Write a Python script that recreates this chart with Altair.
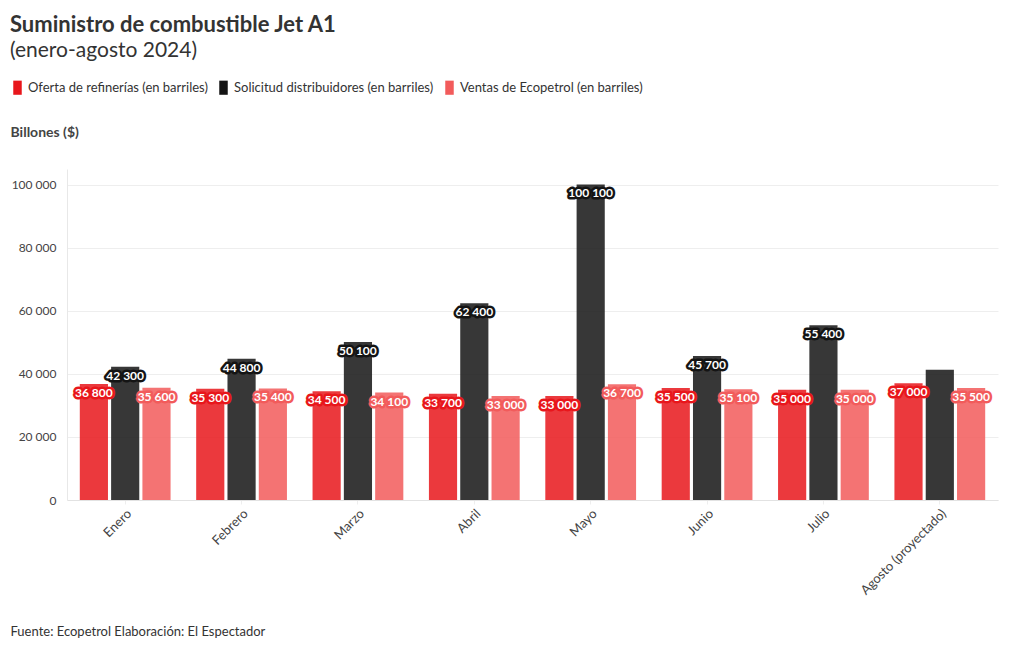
import altair as alt
import pandas as pd

months = ["Enero", "Febrero", "Marzo", "Abril", "Mayo", "Junio", "Julio", "Agosto (proyectado)"]
series = ["Oferta de refinerías (en barriles)", "Solicitud distribuidores (en barriles)", "Ventas de Ecopetrol (en barriles)"]
oferta = [36800, 35300, 34500, 33700, 33000, 35500, 35000, 37000]
solicitud = [42300, 44800, 50100, 62400, 100100, 45700, 55400, 41300]
ventas = [35600, 35400, 34100, 33000, 36700, 35100, 35000, 35500]
show_oferta = [True] * 8
show_solicitud = [True] * 7 + [False]
show_ventas = [True] * 8
colors = ["#e8161b", "#141414", "#f25b5b"]

rows = []
for s, vals, shows in zip(series, [oferta, solicitud, ventas], [show_oferta, show_solicitud, show_ventas]):
    for m, v, sh in zip(months, vals, shows):
        rows.append({"mes": m, "serie": s, "valor": v, "show": sh,
                     "etiqueta": f"{v:,}".replace(",", " ")})
df = pd.DataFrame(rows)

FONT = "Lato"
cscale = alt.Scale(domain=series, range=colors)

x = alt.X("mes:N", sort=months,
          scale=alt.Scale(paddingInner=0.22, paddingOuter=0.11),
          axis=alt.Axis(title="Fuente: Ecopetrol Elaboración: El Espectador",
                        labelAngle=-45, labelFontSize=13, labelColor="#444", labelFont=FONT,
                        labelPadding=3, labelLimit=0,
                        domainColor="#e2e2e2", tickColor="#eeeeee", ticks=True, tickSize=4,
                        titleFont=FONT, titleFontSize=13, titleFontWeight="normal", titleColor="#333",
                        titleAnchor="start", titleAlign="left", titleX=-57, titleY=131,
                        titleBaseline="middle"))
y = alt.Y("valor:Q", scale=alt.Scale(domain=[0, 105000], nice=False),
          axis=alt.Axis(title="Billones ($)", values=[0, 20000, 40000, 60000, 80000, 100000],
                        labelExpr="replace(format(datum.value, ','), ',', ' ')",
                        labelFontSize=12, labelColor="#444", labelFont=FONT, labelPadding=11,
                        gridColor="#eeeeee", domainColor="#e8e8e8", ticks=False,
                        titleFont=FONT, titleFontSize=14, titleFontWeight="bold", titleColor="#444",
                        titleAngle=0, titleAlign="left", titleBaseline="middle",
                        titleX=-57, titleY=-37))
xo = alt.XOffset("serie:N", sort=series, scale=alt.Scale(paddingInner=0.1))

bars = alt.Chart(df).mark_bar(opacity=0.85).encode(
    x=x, y=y, xOffset=xo,
    color=alt.Color("serie:N", scale=cscale, sort=series,
                    legend=alt.Legend(title=None, orient="none", direction="horizontal",
                                      legendX=-57, legendY=-89,
                                      symbolType="M-0.6,-1H0.6V1H-0.6Z", symbolSize=200,
                                      symbolOpacity=1, symbolStrokeWidth=0,
                                      labelFont=FONT, labelFontSize=13, labelColor="#333",
                                      labelLimit=0, columnPadding=8, labelOffset=3)),
)

base_txt = alt.Chart(df).transform_filter("datum.show")
halo = base_txt.mark_text(dy=9, baseline="middle", font=FONT, fontSize=12, fontWeight="bold",
                          strokeWidth=5, strokeJoin="round").encode(
    x=x, y=y, xOffset=xo, text="etiqueta:N",
    stroke=alt.Stroke("serie:N", scale=cscale, legend=None),
    fill=alt.Fill("serie:N", scale=cscale, legend=None),
)
txt = base_txt.mark_text(dy=9, baseline="middle", font=FONT, fontSize=12, fontWeight="bold",
                         color="white").encode(
    x=x, y=y, xOffset=xo, text="etiqueta:N",
)

chart = alt.layer(bars, halo, txt).properties(
    width=931, height=331,
    padding={"left": 2, "top": 6, "right": 5, "bottom": 5},
    title=alt.TitleParams(text="Suministro de combustible Jet A1", subtitle="(enero-agosto 2024)",
                          anchor="start", frame="bounds", font=FONT, fontSize=22, fontWeight="bold",
                          color="#333", subtitleFont=FONT, subtitleFontSize=21,
                          subtitleColor="#333", subtitlePadding=3, offset=18),
).configure_view(stroke=None)

chart.save("out.html", embed_options={"renderer": "svg", "actions": False})
